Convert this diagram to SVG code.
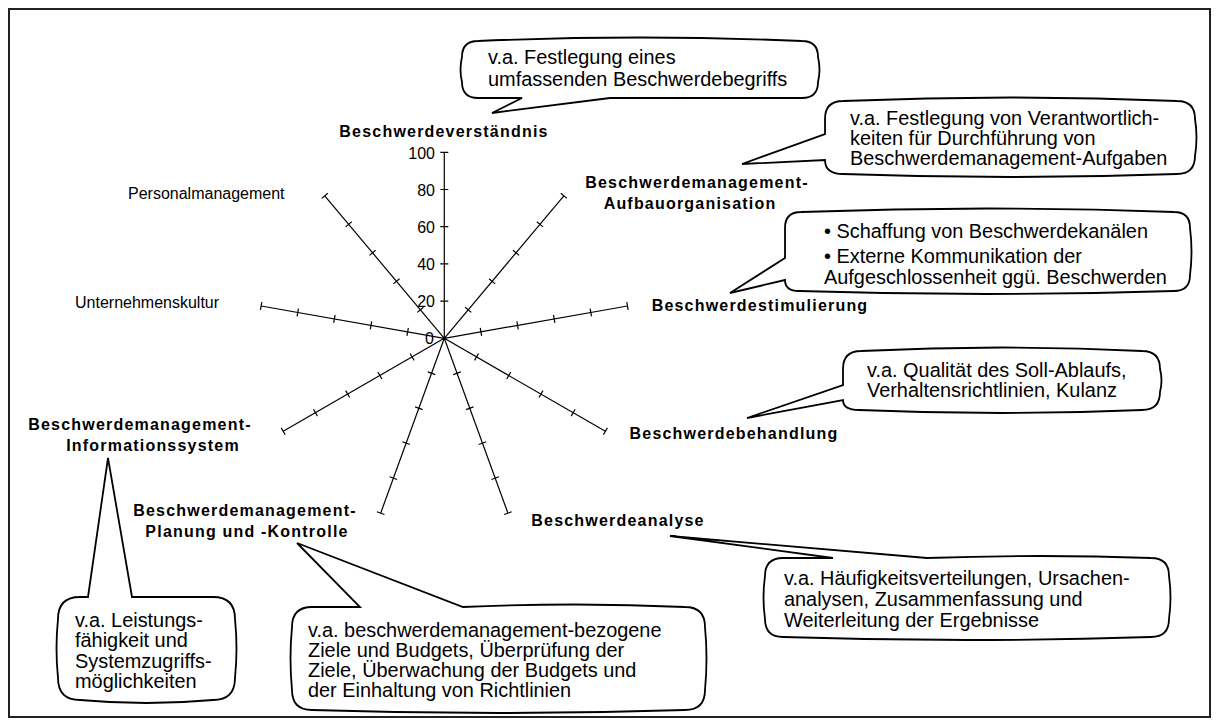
<svg xmlns="http://www.w3.org/2000/svg" xmlns:xlink="http://www.w3.org/1999/xlink" width="1220" height="727" viewBox="0 0 1220 727">
<style>
.frame{fill:#fff;stroke:#222;stroke-width:2}
.call{fill:#fff;stroke:#000;stroke-width:1.8;stroke-linejoin:miter}
.ct{font-family:"Liberation Sans",Arial,sans-serif;font-size:19.9px;fill:#000}
.lb{font-family:"Liberation Sans",Arial,sans-serif;font-size:16px;font-weight:bold;letter-spacing:1.2px;fill:#000;text-anchor:middle}
.lr{font-family:"Liberation Sans",Arial,sans-serif;font-size:16px;fill:#000}
.num{font-family:"Liberation Sans",Arial,sans-serif;font-size:16px;fill:#000;text-anchor:end}
.ax{stroke:#000;stroke-width:1.2;fill:none}
</style>
<defs>
<g id="spoke">
<line class="ax" x1="0" y1="0" x2="0" y2="-186"/>
<path class="ax" d="M-4,-37.2H4M-4,-74.4H4M-4,-111.6H4M-4,-148.8H4M-4,-186H4"/>
</g>
</defs>
<rect class="frame" x="9" y="9" width="1201" height="708"/>
<g id="radar">
<use xlink:href="#spoke" transform="translate(444.3,338.3) rotate(0)"/>
<use xlink:href="#spoke" transform="translate(444.3,338.3) rotate(40)"/>
<use xlink:href="#spoke" transform="translate(444.3,338.3) rotate(80)"/>
<use xlink:href="#spoke" transform="translate(444.3,338.3) rotate(120)"/>
<use xlink:href="#spoke" transform="translate(444.3,338.3) rotate(160)"/>
<use xlink:href="#spoke" transform="translate(444.3,338.3) rotate(200)"/>
<use xlink:href="#spoke" transform="translate(444.3,338.3) rotate(240)"/>
<use xlink:href="#spoke" transform="translate(444.3,338.3) rotate(280)"/>
<use xlink:href="#spoke" transform="translate(444.3,338.3) rotate(320)"/>
<circle cx="444.3" cy="338.3" r="1.6" fill="#000"/>
</g>
<g id="scale">
<text class="num" x="435" y="159">100</text>
<text class="num" x="435" y="196">80</text>
<text class="num" x="435" y="233">60</text>
<text class="num" x="435" y="270">40</text>
<text class="num" x="435" y="307">20</text>
<text class="num" x="434" y="344">0</text>
</g>
<g id="axis-labels">
<text class="lb" x="444" y="137">Beschwerdeverständnis</text>
<text class="lb" x="697" y="188">Beschwerdemanagement-</text>
<text class="lb" x="690" y="209">Aufbauorganisation</text>
<text class="lb" x="760" y="311">Beschwerdestimulierung</text>
<text class="lb" x="734" y="439">Beschwerdebehandlung</text>
<text class="lb" x="618" y="526">Beschwerdeanalyse</text>
<text class="lb" x="245" y="516">Beschwerdemanagement-</text>
<text class="lb" x="247" y="537">Planung und -Kontrolle</text>
<text class="lb" x="140" y="430">Beschwerdemanagement-</text>
<text class="lb" x="153" y="451">Informationssystem</text>
<text class="lr" x="128" y="199">Personalmanagement</text>
<text class="lr" x="75" y="308">Unternehmenskultur</text>
</g>
<g id="callout-verstaendnis">
<path class="call" d="M478,41 Q640,34 802,41 Q818,41 818,57 Q821,69.5 818,82 Q818,98 802,98 L610,98 L492,113 L522,98 L478,98 Q462,98 462,82 Q459,69.5 462,57 Q462,41 478,41 Z"/>
<text class="ct" x="488" y="64">v.a. Festlegung eines</text>
<text class="ct" x="488" y="86">umfassenden Beschwerdebegriffs</text>
</g>
<g id="callout-aufbau">
<path class="call" d="M843,101 Q1010,94 1177,101 Q1195,101 1195,119 Q1198,137.5 1195,156 Q1195,174 1177,174 Q1010,180 843,174 Q825,174 825,160 L742,164 L825,134 L825,119 Q825,101 843,101 Z"/>
<text class="ct" x="850" y="125">v.a. Festlegung von Verantwortlich-</text>
<text class="ct" x="850" y="145">keiten für Durchführung von</text>
<text class="ct" x="850" y="165">Beschwerdemanagement-Aufgaben</text>
</g>
<g id="callout-stimulierung">
<path class="call" d="M801,212 Q987.5,205 1174,212 Q1190,212 1190,228 Q1193,251.5 1190,275 Q1190,291 1174,291 Q987.5,297 799,291 Q785,291 785,280 L730,293 L785,258 L785,228 Q785,212 801,212 Z"/>
<text class="ct" x="824" y="238">• Schaffung von Beschwerdekanälen</text>
<text class="ct" x="824" y="263">• Externe Kommunikation der</text>
<text class="ct" x="824" y="284">Aufgeschlossenheit ggü. Beschwerden</text>
</g>
<g id="callout-behandlung">
<path class="call" d="M861,351 Q1001.5,344 1142,351 Q1160,351 1160,369 Q1163,380.5 1160,392 Q1160,410 1142,410 Q1001.5,416 859,410 Q843,410 843,400 L747,418 L843,385 L843,369 Q843,351 861,351 Z"/>
<text class="ct" x="867" y="377">v.a. Qualität des Soll-Ablaufs,</text>
<text class="ct" x="867" y="397">Verhaltensrichtlinien, Kulanz</text>
</g>
<g id="callout-analyse">
<path class="call" d="M783,558 L833,558 L670,536 L927,558 Q1041,554 1151,558 Q1169,558 1169,576 Q1172,597.5 1169,619 Q1169,637 1151,637 Q967,643 783,637 Q765,637 765,619 Q762,597.5 765,576 Q765,558 783,558 Z"/>
<text class="ct" x="784" y="585">v.a. Häufigkeitsverteilungen, Ursachen-</text>
<text class="ct" x="784" y="606">analysen, Zusammenfassung und</text>
<text class="ct" x="784" y="627">Weiterleitung der Ergebnisse</text>
</g>
<g id="callout-planung">
<path class="call" d="M312,607 L360,607 L297,543 L463,607 Q576,602 685,607 Q705,607 705,627 Q708,658.5 705,690 Q705,710 685,710 Q498.5,716 312,710 Q292,710 292,690 Q289,658.5 292,627 Q292,607 312,607 Z"/>
<text class="ct" x="308" y="637">v.a. beschwerdemanagement-bezogene</text>
<text class="ct" x="308" y="657">Ziele und Budgets, Überprüfung der</text>
<text class="ct" x="308" y="677">Ziele, Überwachung der Budgets und</text>
<text class="ct" x="308" y="697">der Einhaltung von Richtlinien</text>
</g>
<g id="callout-informationssystem">
<path class="call" d="M80,597 L88,597 L108,458 L132,597 L213,597 Q235,597 235,619 Q238,648.5 235,678 Q235,700 213,700 Q146.5,706 80,700 Q58,700 58,678 Q55,648.5 58,619 Q58,597 80,597 Z"/>
<text class="ct" x="75" y="627">v.a. Leistungs-</text>
<text class="ct" x="75" y="647">fähigkeit und</text>
<text class="ct" x="75" y="668">Systemzugriffs-</text>
<text class="ct" x="75" y="688">möglichkeiten</text>
</g>
</svg>
